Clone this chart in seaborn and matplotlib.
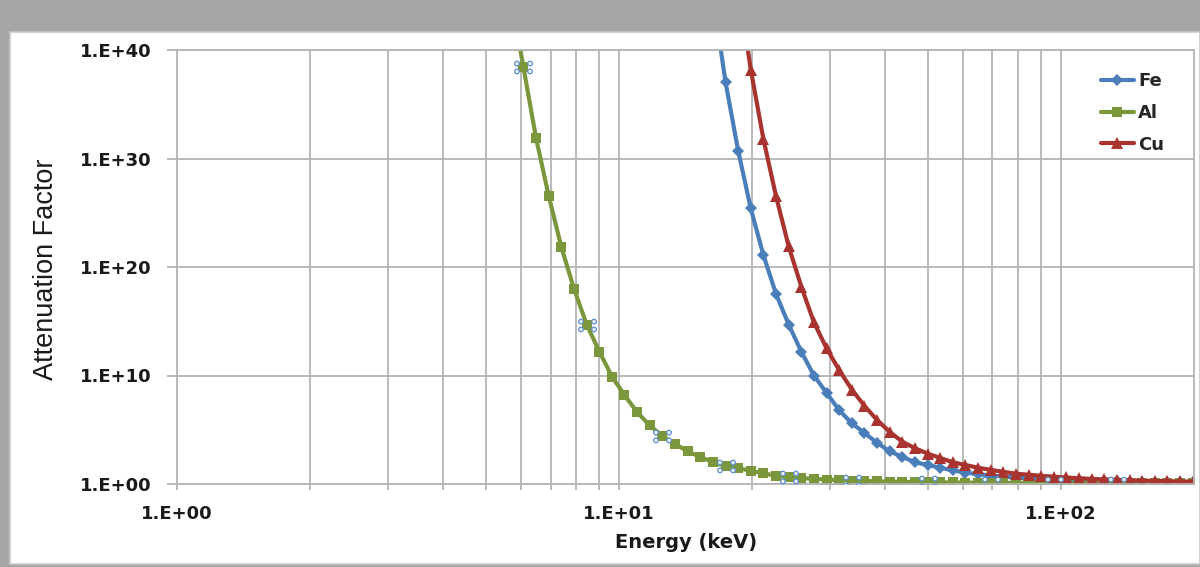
import numpy as np
import pandas as pd
import matplotlib
matplotlib.use("Agg")
import matplotlib.pyplot as plt
from matplotlib.path import Path
from matplotlib.patches import Rectangle
from matplotlib.ticker import FixedLocator, NullFormatter
import seaborn as sns

# photon energy (keV), shared by all three series
energy_kev = [5.69, 6.08, 6.49, 6.94, 7.41, 7.91, 8.45, 9.03, 9.64, 10.29,
              11.00, 11.74, 12.54, 13.39, 14.30, 15.28, 16.31, 17.42, 18.61, 19.87,
              21.22, 22.67, 24.21, 25.85, 27.61, 29.49, 31.49, 33.64, 35.93, 38.37,
              40.98, 43.76, 46.74, 49.92, 53.32, 56.94, 60.81, 64.95, 69.36, 74.08,
              79.12, 84.50, 90.24, 96.38, 102.9, 109.9, 117.4, 125.4, 133.9, 143.0,
              152.8, 163.1, 174.2, 186.1, 198.7]

# attenuation factor, stored as log10; None = not plotted
fe_log10 = [None] * 16 + [45.0,
            37.05, 30.7, 25.4, 21.1, 17.5, 14.7, 12.2, 10.0, 8.4, 6.8,
            5.6, 4.7, 3.8, 3.0, 2.5, 2.0, 1.75, 1.5, 1.25, 1.05,
            0.9, 0.78, 0.68, 0.6, 0.52, 0.46, 0.41, 0.36, 0.32, 0.29,
            0.26, 0.24, 0.22, 0.2, 0.19, 0.175, 0.165, 0.155]

al_log10 = [45.0, 38.4, 31.9, 26.5, 21.8, 18.0, 14.7, 12.2, 9.9, 8.2,
            6.6, 5.4, 4.4, 3.7, 3.0, 2.5, 2.0, 1.66, 1.47, 1.2,
            1.0, 0.74, 0.65, 0.55, 0.47, 0.41, 0.36, 0.32, 0.28, 0.25,
            0.22, 0.2, 0.18, 0.165, 0.15, 0.14, 0.13, 0.12, 0.115, 0.11,
            0.105, 0.1, 0.095, 0.09, 0.088, 0.085, 0.082, 0.08, 0.077, 0.075,
            0.072, 0.07, 0.068, 0.066, 0.064]

cu_log10 = [None] * 18 + [46.0,
            38.2, 31.8, 26.5, 21.9, 18.2, 14.9, 12.5, 10.5, 8.7, 7.2,
            5.9, 4.8, 3.9, 3.3, 2.8, 2.4, 2.0, 1.75, 1.5, 1.3,
            1.12, 0.95, 0.85, 0.75, 0.67, 0.6, 0.53, 0.47, 0.42, 0.38,
            0.34, 0.31, 0.28, 0.26, 0.24, 0.22]

# Al points that carry Excel's selection handles (indices into the lists above)
al_selected = [1, 6, 12, 17, 22, 27, 33, 38, 43, 48]

y_ticks = [1e0, 1e10, 1e20, 1e30, 1e40]
y_tick_labels = ["1.E+00", "1.E+10", "1.E+20", "1.E+30", "1.E+40"]
x_ticks = [1, 10, 100]
x_tick_labels = ["1.E+00", "1.E+01", "1.E+02"]

sns.set_theme(style="white")
plt.rcParams['font.family'] = ['DejaVu Sans']

W, H = 1200, 567
fig = plt.figure(figsize=(W / 100, H / 100), dpi=100, facecolor='#a6a6a6')
fig.patches.append(Rectangle((10 / W, 3 / H), 1190 / W, 532 / H, transform=fig.transFigure,
                             facecolor='white', edgecolor='#c8c8c8', lw=1.2, zorder=-10))
ax = fig.add_axes([177 / W, 83 / H, 1017 / W, 434 / H])
ax.set_facecolor('white')

series = [
    ("Fe", fe_log10, '#4a7ebb', 'D', 6.5),
    ("Al", al_log10, '#7a973c', 's', 7),
    ("Cu", cu_log10, '#a8332f', '^', 8.5),
]
for name, vals, col, mk, ms in series:
    df = pd.DataFrame({'energy': energy_kev,
                       'factor': 10 ** np.array(vals, dtype=float)}).dropna()
    sns.lineplot(data=df, x='energy', y='factor', ax=ax, color=col, marker=mk,
                 markersize=ms, markeredgewidth=0, lw=3, label=name,
                 sort=False, estimator=None)

# selection handles: four little circles round the selected markers
circles = [Path.circle((sx, sy), 0.35) for sx in (-1, 1) for sy in (-0.6, 0.6)]
handle_path = Path.make_compound_path(*circles)
sel_x = [energy_kev[i] for i in al_selected]
sel_y = [10 ** al_log10[i] for i in al_selected]
ax.plot(sel_x, sel_y, ls='none', marker=handle_path, markersize=12.7,
        markerfacecolor='#f2f6fc', markeredgecolor='#5b8fcf', markeredgewidth=0.9, zorder=5)

ax.set_xscale('log')
ax.set_yscale('log')
ax.set_xlim(1, 200)
ax.set_ylim(1, 1e40)

ax.yaxis.set_major_locator(FixedLocator(y_ticks))
ax.set_yticklabels(y_tick_labels)
ax.yaxis.set_minor_locator(FixedLocator([]))
ax.xaxis.set_major_locator(FixedLocator(x_ticks))
ax.set_xticklabels(x_tick_labels)
minor_x = [m * d for d in (1, 10) for m in range(2, 10)]
ax.xaxis.set_minor_locator(FixedLocator(minor_x))
ax.xaxis.set_minor_formatter(NullFormatter())

grid_col = '#b4b4b4'
ax.grid(which='major', axis='both', color=grid_col, lw=1.3)
ax.grid(which='minor', axis='x', color=grid_col, lw=1.3)
for sp in ax.spines.values():
    sp.set_color(grid_col)
    sp.set_linewidth(1.3)

ax.tick_params(axis='y', which='major', left=True, length=7.5, width=1.3, color=grid_col,
               pad=11, labelsize=13, labelcolor='#1a1a1a')
ax.tick_params(axis='x', which='both', bottom=True, length=4, width=1.3, color=grid_col,
               pad=11, labelsize=13, labelcolor='#1a1a1a')
for lab in ax.get_xticklabels() + ax.get_yticklabels():
    lab.set_fontweight('bold')

ax.set_xlabel('')
ax.set_ylabel('')
fig.text(686 / W, 1 - 542 / H, 'Energy (keV)', ha='center', va='center',
         fontsize=14, fontweight='bold', color='#1a1a1a')
fig.text(46 / W, 1 - 269 / H, 'Attenuation Factor', ha='center', va='center', rotation=90,
         fontsize=19.5, family=['Liberation Sans'], color='#1a1a1a')

ax.legend(loc='center left', bbox_to_anchor=(1092 / W, 1 - 113 / H),
          bbox_transform=fig.transFigure, frameon=False, handlelength=1.8,
          handletextpad=0.25, labelspacing=0.75, borderpad=0,
          prop={'weight': 'bold', 'size': 13})

fig.savefig('out.png', dpi=100, facecolor=fig.get_facecolor())
